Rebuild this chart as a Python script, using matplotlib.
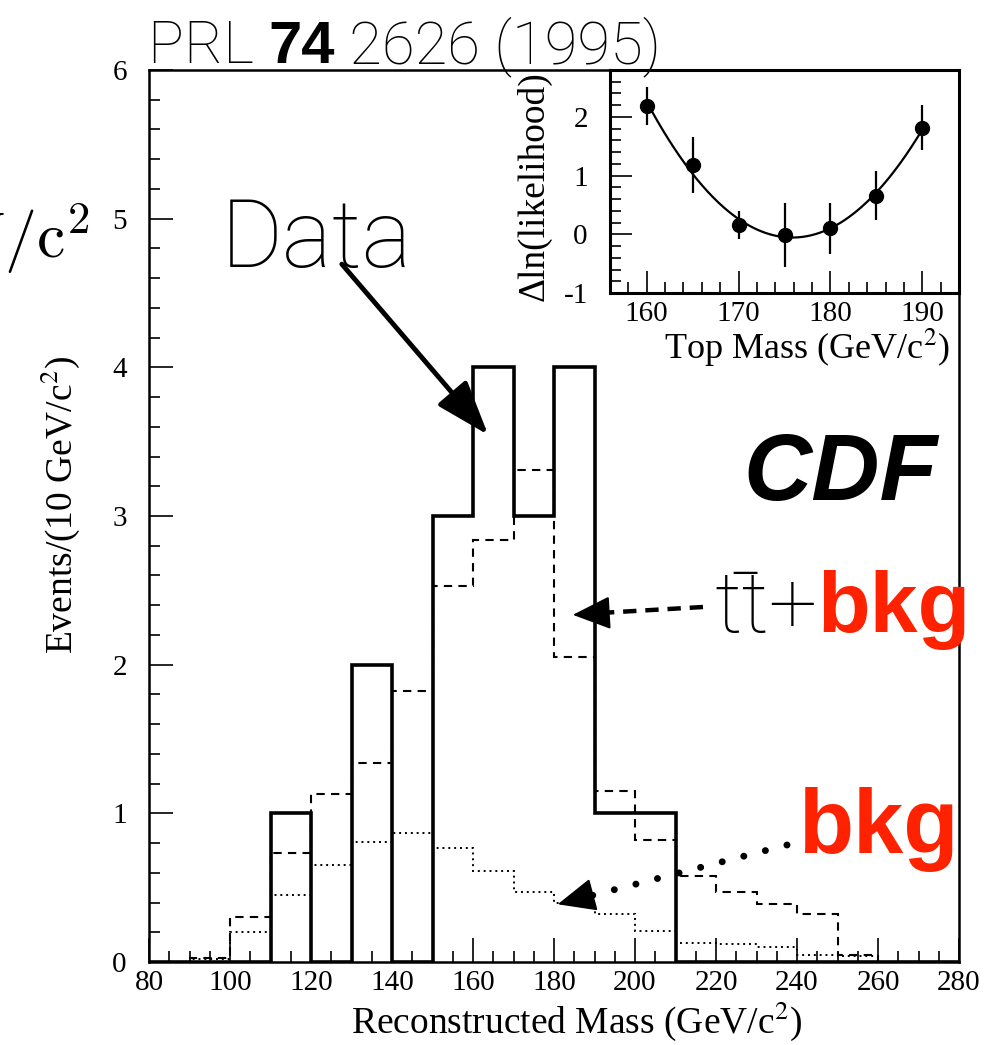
import matplotlib
matplotlib.use("Agg")
import matplotlib.pyplot as plt
import numpy as np
from matplotlib.ticker import MultipleLocator
from matplotlib.lines import Line2D

# reconstructed mass histogram, 10 GeV bins from 80 to 280
edges = np.arange(80, 290, 10)
data_counts = [0, 0, 0, 1, 0, 2, 0, 3, 4, 3, 4, 1, 1, 0, 0, 0, 0, 0, 0, 0]
ttbar_bkg = [0, 0.03, 0.30, 0.73, 1.13, 1.34, 1.82, 2.53, 2.84, 3.31,
             2.05, 1.15, 0.82, 0.58, 0.47, 0.39, 0.32, 0.05, 0, 0]
bkg_only = [0, 0.02, 0.20, 0.45, 0.65, 0.81, 0.87, 0.77, 0.61, 0.47,
            0.40, 0.32, 0.21, 0.13, 0.12, 0.10, 0.05, 0.04, 0, 0]

# likelihood scan (inset)
top_mass = [160, 165, 170, 175, 180, 185, 190]
dlnl = [2.19, 1.18, 0.16, -0.01, 0.10, 0.66, 1.82]
dlnl_err = [0.32, 0.48, 0.24, 0.54, 0.43, 0.42, 0.39]

W, H = 1007, 1045
RED = "#ff2200"
SANS = "Roboto"

plt.rcParams["font.family"] = ["Liberation Serif", "DejaVu Serif"]
plt.rcParams["axes.unicode_minus"] = False


def px(x, y):
    return (x / W, 1 - y / H)


fig = plt.figure(figsize=(W / 100, H / 100), dpi=100)

ax = fig.add_axes([149 / W, 1 - 962 / H, (959 - 149) / W, (962 - 70) / H])
ax.stairs(data_counts, edges, color="k", lw=2.6, baseline=0)
ax.stairs(ttbar_bkg, edges, color="k", lw=1.5, ls=(0, (4, 3)), baseline=0)
ax.stairs(bkg_only, edges, color="k", lw=1.4, ls=(0, (1, 2)), baseline=0)
ax.set_xlim(80, 280)
ax.set_ylim(0, 6)
ax.set_xticks(np.arange(80, 281, 20))
ax.xaxis.set_minor_locator(MultipleLocator(5))
ax.yaxis.set_major_locator(MultipleLocator(1))
ax.yaxis.set_minor_locator(MultipleLocator(0.2))
ax.tick_params(which="both", direction="in", top=False, right=False, labelsize=21, width=1.2)
ax.tick_params(which="major", length=17)
ax.tick_params(which="minor", length=8)
ax.tick_params(axis="y", pad=16)
ax.tick_params(axis="x", pad=6)
for s in ax.spines.values():
    s.set_linewidth(1.8)

fig.text(*px(577, 1033), "Reconstructed Mass (GeV/c$^2$)", ha="center", va="baseline",
         fontsize=27, math_fontfamily="stix")
fig.text(*px(60, 505), "Events/(10 GeV/c$^2$)", ha="center", va="center", rotation=90,
         fontsize=27, math_fontfamily="stix")

# inset
axin = fig.add_axes([610 / W, 1 - 293 / H, (959 - 610) / W, (293 - 70) / H])
coef = np.polyfit(top_mass, dlnl, 2)
xs = np.linspace(160, 190, 200)
axin.plot(xs, np.polyval(coef, xs), color="k", lw=1.6)
axin.errorbar(top_mass, dlnl, yerr=dlnl_err, fmt="o", color="k", ms=10, elinewidth=1.6, capsize=0)
axin.set_xlim(156, 194)
axin.set_ylim(-1, 2.8)
axin.set_xticks([160, 170, 180, 190])
axin.xaxis.set_minor_locator(MultipleLocator(2))
axin.set_yticks([-1, 0, 1, 2])
axin.yaxis.set_minor_locator(MultipleLocator(0.2))
axin.tick_params(which="both", direction="in", top=False, right=False, labelsize=21, width=1.2)
axin.tick_params(which="major", length=16)
axin.tick_params(which="minor", length=8)
axin.tick_params(axis="y", pad=16)
axin.tick_params(axis="x", pad=6)
for s in axin.spines.values():
    s.set_linewidth(2.2)
fig.text(*px(807, 359), "Top Mass (GeV/c$^2$)", ha="center", va="baseline",
         fontsize=26, math_fontfamily="stix")
fig.text(*px(534, 186), "\u0394ln(likelihood)", ha="center", va="center", rotation=90, fontsize=27)

# annotations
renderer = fig.canvas.get_renderer()


def chain(x, y, parts):
    # draw text pieces one after another on the same baseline
    xf, yf = px(x, y)
    for s, kw in parts:
        t = fig.text(xf, yf, s, va="baseline", ha="left", **kw)
        bb = t.get_window_extent(renderer)
        xf = bb.x1 / W


light = dict(family=SANS, weight="light")
chain(148, 63, [("PRL ", dict(fontsize=43, **light)),
                ("74", dict(fontsize=43, family="Liberation Sans", weight="bold")),
                (" 2626 (1995)", dict(fontsize=43, **light))])
fig.text(*px(221, 267), "Data", fontsize=68, va="baseline", **light)
fig.text(*px(743, 500), "CDF", fontsize=68, va="baseline", family="Liberation Sans",
         weight="bold", style="italic")
chain(714, 632, [("tt\u0304+", dict(fontsize=62, **light)),
                 ("bkg", dict(fontsize=62, family="Liberation Sans", weight="bold", color=RED))])
fig.text(*px(798, 853), "bkg", fontsize=65, va="baseline", family="Liberation Sans",
         weight="bold", color=RED)
fig.text(*px(90, 258), r"$\mathrm{GeV/c}^2$", ha="right", va="baseline", fontsize=46,
         math_fontfamily="cm")

# arrow from "Data"
fig.add_artist(matplotlib.patches.FancyArrowPatch(
    px(340, 262), px(490, 437), transform=fig.transFigure,
    arrowstyle="-|>,head_length=0.8,head_width=0.28", mutation_scale=42,
    lw=3.5, color="k"))

# dashed arrow for ttbar+bkg
fig.add_artist(Line2D([703 / W, 600 / W], [1 - 607 / H, 1 - 613 / H], transform=fig.transFigure,
                      color="k", lw=3.2, ls=(0, (3, 2))))
fig.add_artist(matplotlib.patches.FancyArrowPatch(
    px(605, 613), px(570, 615), transform=fig.transFigure,
    arrowstyle="-|>,head_length=0.8,head_width=0.35", mutation_scale=30,
    lw=1.5, color="k"))

# dotted arrow for bkg
fig.add_artist(Line2D([787 / W, 590 / W], [1 - 845 / H, 1 - 896 / H], transform=fig.transFigure,
                      color="k", lw=5, ls=(0, (0.01, 3.2)), dash_capstyle="round"))
fig.add_artist(matplotlib.patches.FancyArrowPatch(
    px(596, 894), px(555, 905), transform=fig.transFigure,
    arrowstyle="-|>,head_length=0.8,head_width=0.35", mutation_scale=30,
    lw=1.5, color="k"))

fig.savefig("out.png", dpi=100)
